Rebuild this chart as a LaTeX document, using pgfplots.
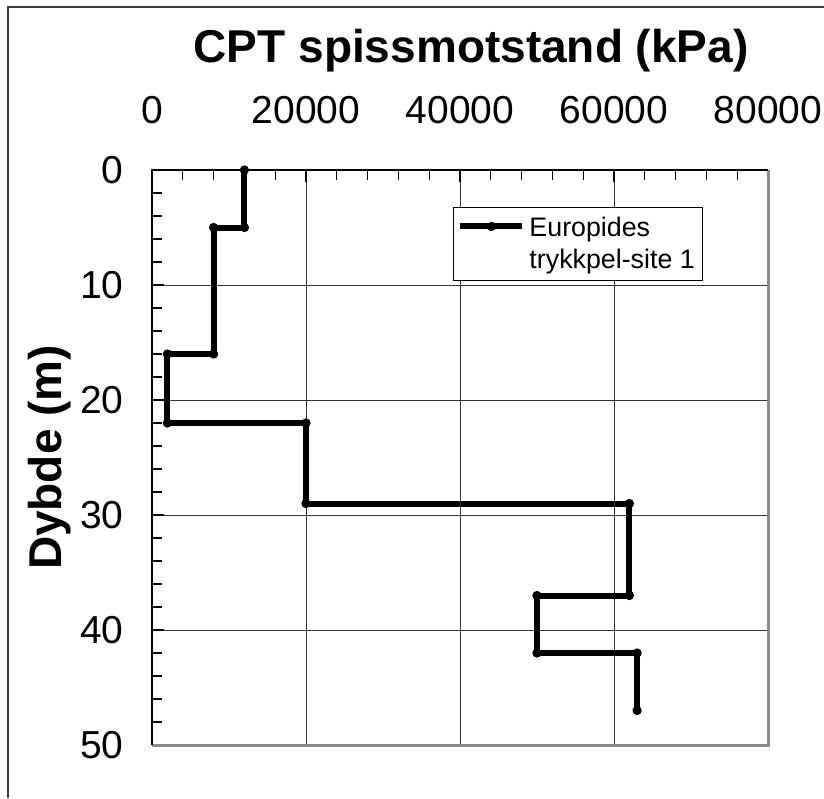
\documentclass[border=0pt]{standalone}
\usepackage{pgfplots}
\pgfplotsset{compat=1.18}
\usepackage{fontspec}
\setmainfont{Liberation Sans}
\begin{document}
\begin{tikzpicture}
\useasboundingbox (0,0) rectangle (412pt,-399pt);
\fill[white] (0,0) rectangle (412pt,-399pt);
\draw[line width=1pt, color=black!75] (3.75pt,-399pt) -- (3.75pt,-3.25pt) -- (412pt,-3.25pt);
\begin{axis}[
  at={(76pt,-85pt)}, anchor=north west,
  scale only axis, width=308pt, height=287.5pt,
  xmin=0, xmax=80000, ymin=0, ymax=50, y dir=reverse,
  clip=false,
  xtick={0,20000,40000,60000,80000},
  ytick={0,10,20,30,40,50},
  minor x tick num=4, minor y tick num=4,
  xtick pos=upper, ytick pos=left, xticklabel pos=upper,
  tick align=inside,
  major tick length=6pt, minor tick length=5pt,
  every tick/.style={black, line width=0.6pt},
  grid=major, major grid style={black!80, line width=0.5pt},
  axis line style={draw=none},
  scaled x ticks=false,
  /pgf/number format/1000 sep={},
  /pgf/number format/assume math mode=true,
  tick label style={font=\fontsize{19.5}{23}\selectfont},
  xticklabel style={anchor=base, yshift=23.5pt},
  yticklabel style={anchor=east, inner sep=0pt, xshift=-14pt},
  xlabel={CPT spissmotstand (kPa)},
  xlabel style={at={(axis description cs:0.518,1.1878)}, anchor=base, font=\bfseries\fontsize{23}{27}\selectfont},
  ylabel={Dybde (m)},
  ylabel style={at={(axis description cs:-0.1461,0.5)}, anchor=base, font=\bfseries\fontsize{23}{27}\selectfont},
  legend style={at={(axis description cs:0.4886,0.807)}, anchor=south west, draw=black, line width=0.5pt,
    font=\fontsize{13.4}{16}\selectfont, inner xsep=2pt, inner ysep=1pt,
    nodes={inner ysep=0pt, text depth=}},
  legend cell align=left,
  legend image code/.code={\draw[mark repeat=2,mark phase=2,#1] plot coordinates {(0pt,8.75pt)(15.5pt,8.75pt)(31pt,8.75pt)};},
]
\draw[black!45, line width=1.5pt] (axis description cs:0,0) -- (axis description cs:1,0) -- (axis description cs:1,1);
\draw[black, line width=1pt] (axis description cs:0,0) -- (axis description cs:0,1) -- (axis description cs:1,1);
\addplot[black, line width=3pt, mark=*, mark size=2.1pt, mark options={line width=0.4pt}] coordinates {
(12000,0) (12000,5) (8000,5) (8000,16) (2000,16) (2000,22) (20000,22) (20000,29)
(62000,29) (62000,37) (50000,37) (50000,42) (63000,42) (63000,47)
};
\addlegendentry{{\def\arraystretch{0}\begin{tabular}{@{}l@{}}\rule[-4pt]{0pt}{17.5pt}Europides\\\rule[-5pt]{0pt}{17pt}trykkpel-site 1\end{tabular}}}
\end{axis}
\end{tikzpicture}
\end{document}
